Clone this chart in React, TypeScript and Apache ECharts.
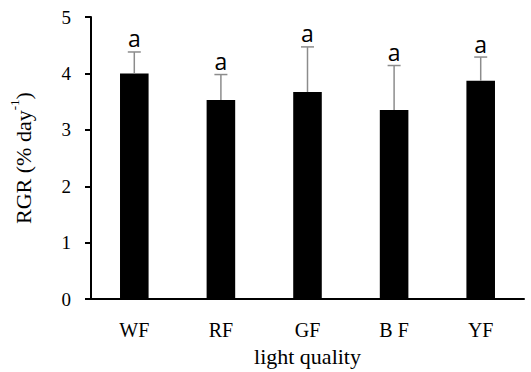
import React, { useEffect, useRef } from "react";
import * as echarts from "echarts";

const categories = ["WF", "RF", "GF", "B F", "YF"];
const means = [4.0, 3.53, 3.67, 3.35, 3.87];
const errors = [0.38, 0.45, 0.8, 0.79, 0.42];
const letters = ["a", "a", "a", "a", "a"];
const yTicks = [0, 1, 2, 3, 4, 5];

export default function App() {
  const ref = useRef<HTMLDivElement>(null);
  useEffect(() => {
    if (!ref.current) return;
    const chart = echarts.init(ref.current, null, { renderer: "svg" });
    const serif = "'Liberation Serif', 'Times New Roman', serif";
    chart.setOption({
      animation: false,
      grid: { left: 86, right: 7, top: 17, bottom: 72 },
      xAxis: {
        type: "category",
        data: categories,
        axisLine: { lineStyle: { color: "#000", width: 2 } },
        axisTick: { show: false },
        axisLabel: { color: "#000", fontFamily: serif, fontSize: 20, margin: 21 },
        name: "light quality",
        nameLocation: "middle",
        nameGap: 45,
        nameTextStyle: { color: "#000", fontFamily: serif, fontSize: 22, verticalAlign: "top" },
      },
      yAxis: {
        type: "value",
        min: yTicks[0],
        max: yTicks[yTicks.length - 1],
        interval: 1,
        splitLine: { show: false },
        axisLine: { show: true, lineStyle: { color: "#000", width: 2 } },
        axisTick: { show: true, length: 6, lineStyle: { color: "#000", width: 2 } },
        axisLabel: { color: "#000", fontFamily: serif, fontSize: 19, margin: 20 },
        name: "{n|RGR (% day}{s|-1}{n|)}",
        nameLocation: "middle",
        nameGap: 57,
        nameRotate: 90,
        nameTextStyle: {
          color: "#000",
          fontFamily: serif,
          rich: {
            n: { fontFamily: serif, fontSize: 22, color: "#000", lineHeight: 26, verticalAlign: "bottom" },
            s: { fontFamily: serif, fontSize: 13, color: "#000", lineHeight: 26, verticalAlign: "top" },
          },
        },
      },
      series: [
        {
          type: "bar",
          data: means,
          barWidth: "33%",
          itemStyle: { color: "#000" },
          z: 2,
        },
        {
          type: "custom",
          z: 3,
          data: means.map((m, i) => [i, m, errors[i]]),
          renderItem: (params: any, api: any) => {
            const i = api.value(0);
            const m = api.value(1);
            const e = api.value(2);
            const p0 = api.coord([i, m]);
            const p1 = api.coord([i, m + e]);
            const x = p0[0];
            const cap = 6.5;
            const st = { stroke: "#8c8c8c", lineWidth: 1.5 };
            return {
              type: "group",
              children: [
                { type: "line", shape: { x1: x, y1: p0[1], x2: x, y2: p1[1] }, style: st },
                { type: "line", shape: { x1: x - cap, y1: p1[1], x2: x + cap, y2: p1[1] }, style: st },
                {
                  type: "text",
                  x: x,
                  y: p1[1] - 2,
                  style: {
                    text: letters[params.dataIndex],
                    fill: "#000",
                    font: "23px 'Open Sans', sans-serif",
                    align: "center",
                    verticalAlign: "bottom",
                  },
                },
              ],
            };
          },
        },
      ],
    });
    return () => chart.dispose();
  }, []);
  return <div ref={ref} style={{ width: 531, height: 372, position: "absolute", left: 0, top: 0 }} />;
}
